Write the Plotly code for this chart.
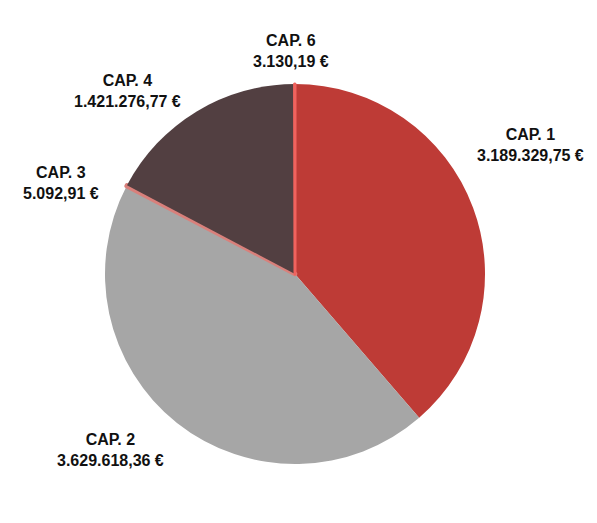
import plotly.graph_objects as go

# chapter totals (EUR)
labels = ["CAP. 1", "CAP. 2", "CAP. 3", "CAP. 4", "CAP. 6"]
values = [3189329.75, 3629618.36, 5092.91, 1421276.77, 3130.19]
colors = ["#BE3B36", "#A6A6A6", "#D9807B", "#523F41", "#F0635E"]

# label centres in pixels (x, y from top) as seen in the page
label_px = [(530, 145), (110, 450), (61, 183), (127, 91), (291, 51)]
# outline widths so the two tiny slices stay visible, like in the original
edge_w = [0, 0, 4.5, 0, 3]

W, H = 597, 523
OFF = 8  # default body margin of the html page


def eur(v):
    s = f"{v:,.2f}"
    return s.replace(",", "X").replace(".", ",").replace("X", ".") + " €"


cx, cy, r = 295 - OFF, 274 - OFF, 190

fig = go.Figure()
fig.add_trace(go.Pie(
    labels=labels,
    values=values,
    sort=False,
    direction="clockwise",
    rotation=0,
    marker=dict(colors=colors, line=dict(color=colors, width=edge_w)),
    textinfo="none",
    hoverinfo="label+value",
    domain=dict(x=[(cx - r) / W, (cx + r) / W],
                y=[(H - cy - r) / H, (H - cy + r) / H]),
    showlegend=False,
))

for lab, val, (px, py) in zip(labels, values, label_px):
    fig.add_annotation(
        x=(px - OFF) / W, y=1 - (py - OFF) / H, xref="paper", yref="paper",
        text=f"<b>{lab}</b><br><b>{eur(val)}</b>",
        showarrow=False, xanchor="center", yanchor="middle",
        align="center",
        font=dict(family="Liberation Sans, Arial", size=16, color="#111111"),
    )

fig.update_layout(
    width=W, height=H,
    margin=dict(l=0, r=0, t=0, b=0),
    paper_bgcolor="white",
    plot_bgcolor="white",
)

fig.write_html("out.html")
